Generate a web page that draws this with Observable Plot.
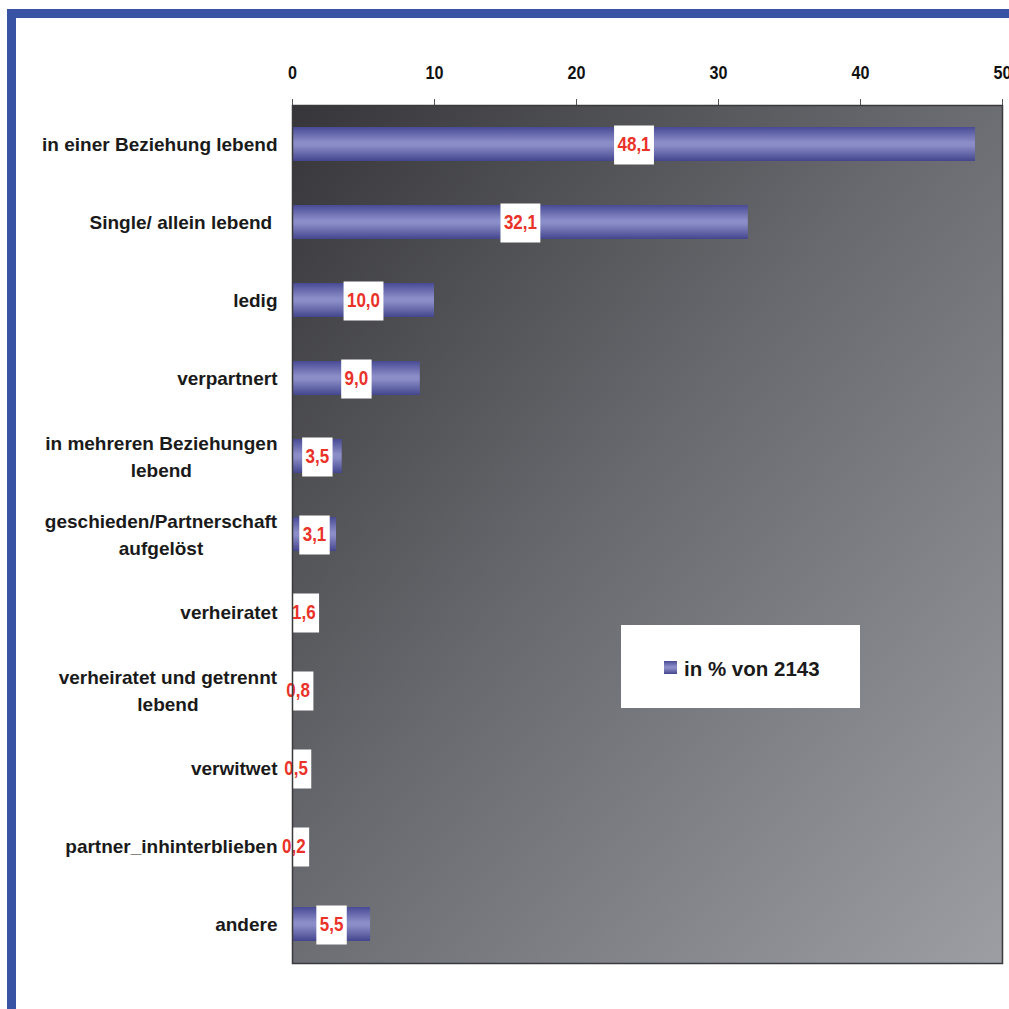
<!DOCTYPE html>
<html><head><meta charset="utf-8">
<script src="https://cdn.jsdelivr.net/npm/d3@7"></script>
<script src="https://cdn.jsdelivr.net/npm/@observablehq/plot@0.6"></script>
<style>
body{margin:0;background:#fff;width:1009px;height:1009px;overflow:hidden;position:relative}
#chart{position:absolute;left:0;top:0}
.frame{position:absolute;background:#3953a4}
</style></head><body>
<div id="chart"></div>
<div class="frame" style="left:7px;top:9px;width:1002px;height:9px"></div>
<div class="frame" style="left:7px;top:9px;width:9px;height:1000px"></div>
<script>
const categories = [
  "in einer Beziehung lebend",
  "Single/ allein lebend\u00a0",
  "ledig",
  "verpartnert",
  "in mehreren Beziehungen\nlebend",
  "geschieden/Partnerschaft\naufgelöst",
  "verheiratet",
  "verheiratet und getrennt\nlebend",
  "verwitwet",
  "partner_inhinterblieben",
  "andere"
];
const values = [48.1, 32.1, 10.0, 9.0, 3.5, 3.1, 1.6, 0.8, 0.5, 0.2, 5.5];
const xTicks = [0, 10, 20, 30, 40, 50];
const legendLabel = "in % von 2143";

const data = categories.map((c, i) => ({category: c, value: values[i]}));
const fmt = v => v.toFixed(1).replace(".", ",");
const sans = "'Liberation Sans',Arial,sans-serif";

const plot = Plot.plot({
  width: 1009, height: 1009,
  marginLeft: 292, marginRight: 7, marginTop: 105, marginBottom: 46,
  style: {fontFamily: sans, background: "transparent", overflow: "visible"},
  x: {domain: [0, 50], ticks: xTicks, label: null},
  y: {domain: categories, paddingInner: 0.56, paddingOuter: 0.28, axis: null},
  marks: [
    Plot.frame({fill: "url(#bgGrad)", stroke: "none"}),
    Plot.barX(data, {x: "value", y: "category", fill: "url(#barGrad)"}),
    Plot.axisX({anchor: "top", ticks: xTicks, tickSize: 7, tickPadding: 20, stroke: "#555",
      fill: "#111", fontSize: 19, fontWeight: "bold", label: null, className: "xticks"}),
    Plot.text(data, {x: 0, y: "category", text: d => d.category, textAnchor: "end", dx: -15, dy: -2,
      fontSize: 19, fontWeight: "bold", fill: "#1a1a1a", lineHeight: 1.42, className: "ylabels"}),
    Plot.text(data, {x: d => d.value / 2, y: "category", text: d => fmt(d.value), fill: "#ea3229",
      fontSize: 20, fontWeight: "bold", className: "vlabels"}),
    Plot.frame({stroke: "#3a3a3c", strokeWidth: 1.5})
  ]
});

document.getElementById("chart").appendChild(plot);

const ns = "http://www.w3.org/2000/svg";
const defs = document.createElementNS(ns, "defs");
defs.innerHTML = `
<linearGradient id="bgGrad" x1="0" y1="0" x2="1" y2="1">
  <stop offset="0" stop-color="#36363a"/>
  <stop offset="0.45" stop-color="#68696e"/>
  <stop offset="1" stop-color="#9c9ea4"/>
</linearGradient>
<linearGradient id="barGrad" x1="0" y1="0" x2="0" y2="1">
  <stop offset="0" stop-color="#484b94"/>
  <stop offset="0.45" stop-color="#8c8ec9"/>
  <stop offset="0.55" stop-color="#8a8cc7"/>
  <stop offset="1" stop-color="#43468d"/>
</linearGradient>`;
plot.insertBefore(defs, plot.firstChild);

// condensed look for numeric labels (no narrow font installed)
d3.select(plot).selectAll(".xticks text, .vlabels text").each(function() {
  const t = this.getAttribute("transform") || "";
  this.setAttribute("transform", t + " scale(0.85,1)");
});

// center multi-line category labels
d3.select(plot).selectAll(".ylabels text").each(function() {
  const tspans = this.querySelectorAll("tspan");
  if (tspans.length > 1) {
    const w = this.getBBox().width;
    this.setAttribute("text-anchor", "middle");
    tspans.forEach(t => t.setAttribute("x", -w / 2));
  }
});

// white boxes behind value labels
d3.select(plot).selectAll(".vlabels text").each(function() {
  const bb = this.getBBox();
  const r = document.createElementNS(ns, "rect");
  r.setAttribute("x", bb.x - 4);
  r.setAttribute("width", bb.width + 8);
  r.setAttribute("y", -19);
  r.setAttribute("height", 39);
  r.setAttribute("fill", "#fff");
  r.setAttribute("transform", this.getAttribute("transform"));
  this.parentNode.insertBefore(r, this);
});

// legend box
const lg = d3.select(plot).append("g").attr("text-anchor", "start");
lg.append("rect").attr("x", 621).attr("y", 625).attr("width", 239).attr("height", 83).attr("fill", "#fff");
lg.append("rect").attr("x", 664).attr("y", 661).attr("width", 13).attr("height", 13).attr("fill", "url(#barGrad)");
lg.append("text").attr("x", 684).attr("y", 676).attr("font-size", 20.5).attr("font-weight", "bold")
  .attr("font-family", sans).attr("fill", "#1a1a1a").attr("text-anchor", "start").text(legendLabel);
</script>
</body></html>
